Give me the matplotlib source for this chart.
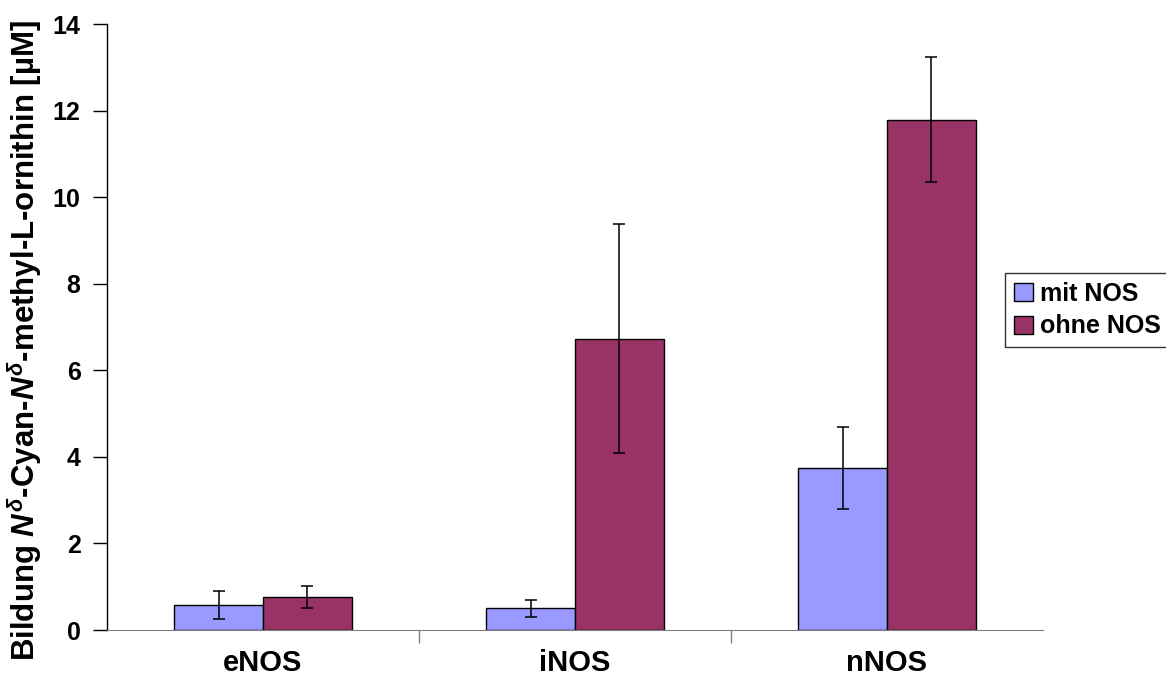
import numpy as np
import matplotlib
matplotlib.use("Agg")
import matplotlib.pyplot as plt
from matplotlib.ticker import MultipleLocator, FixedLocator

# data
categories = ["eNOS", "iNOS", "nNOS"]
mit_nos = [0.58, 0.50, 3.74]
mit_err = [0.32, 0.20, 0.95]
ohne_nos = [0.76, 6.73, 11.79]
ohne_err = [0.26, 2.64, 1.44]
series_labels = ["mit NOS", "ohne NOS"]

plt.rcParams['font.family'] = ['Liberation Sans', 'DejaVu Sans']
plt.rcParams['font.weight'] = 'bold'
plt.rcParams['mathtext.fontset'] = 'custom'
plt.rcParams['mathtext.rm'] = 'Liberation Sans:bold'
plt.rcParams['mathtext.it'] = 'Liberation Sans:bold:italic'
plt.rcParams['mathtext.bf'] = 'Liberation Sans:bold'

fig = plt.figure(figsize=(11.66, 6.87), dpi=100)
ax = fig.add_axes([107/1166, 57/687, 936/1166, 606/687])

x = np.arange(len(categories))
w = 0.285
err_kw = dict(ecolor='black', elinewidth=1.1, capsize=4.5, capthick=1.1)
ax.bar(x - w/2, mit_nos, w, yerr=mit_err, color='#9999FF', edgecolor='black',
       linewidth=1.0, error_kw=err_kw, label=series_labels[0], zorder=2)
ax.bar(x + w/2, ohne_nos, w, yerr=ohne_err, color='#993366', edgecolor='black',
       linewidth=1.0, error_kw=err_kw, label=series_labels[1], zorder=2)

ax.set_xlim(-0.5, 2.5)
ax.set_ylim(0, 14)
ax.yaxis.set_major_locator(MultipleLocator(2))
ax.set_xticks(x)
ax.set_xticklabels(categories, fontsize=21, fontweight='bold')
ax.xaxis.set_minor_locator(FixedLocator([0.5, 1.5]))
ax.tick_params(axis='x', which='major', length=0, pad=14)
ax.tick_params(axis='x', which='minor', length=9, color='#808080', width=1)
ax.tick_params(axis='y', length=10, width=1, labelsize=18, pad=9)
for lbl in ax.get_yticklabels():
    lbl.set_fontweight('bold')

ax.spines['top'].set_visible(False)
ax.spines['right'].set_visible(False)
ax.spines['bottom'].set_color('#808080')
ax.spines['left'].set_linewidth(1.0)

ax.set_ylabel(r'Bildung $\mathit{N}^{\mathit{\delta}}$-Cyan-$\mathit{N}^{\mathit{\delta}}$-methyl-L-ornithin [µM]',
              fontsize=22.5, fontweight='bold')
ax.yaxis.set_label_coords(-0.067, 0.477)

leg = fig.legend(loc='center left', bbox_to_anchor=(1005/1166, 1 - 310/687),
                 fontsize=18, frameon=True, fancybox=False, edgecolor='black',
                 handlelength=0.75, handleheight=0.75, handletextpad=0.3,
                 borderpad=0.35, labelspacing=0.35, borderaxespad=0)
leg.get_frame().set_linewidth(1.0)
for t in leg.get_texts():
    t.set_fontweight('bold')

fig.savefig("out.png", dpi=100)
